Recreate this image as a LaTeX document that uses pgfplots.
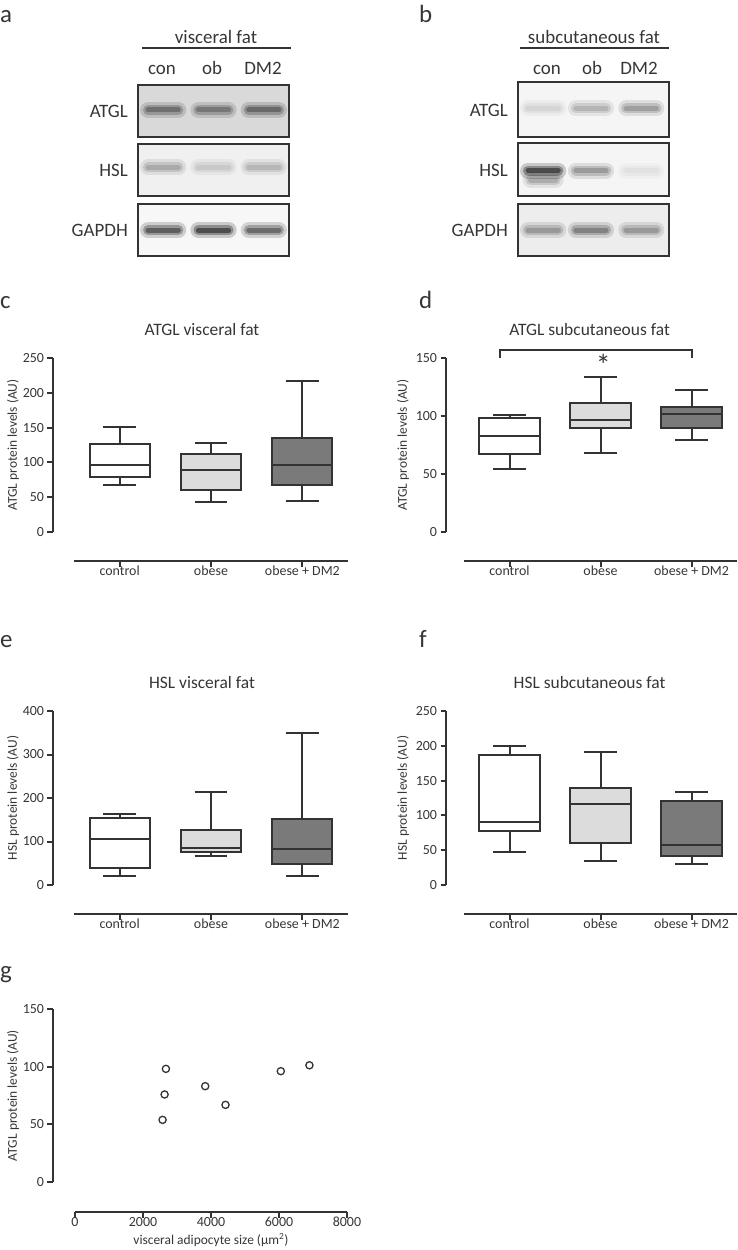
\documentclass[border=0pt]{standalone}
\usepackage{fontspec}
\setmainfont{Carlito}
\usepackage{pgfplots}
\pgfplotsset{compat=1.18}
\definecolor{txt}{HTML}{363636}
\definecolor{ln}{HTML}{333333}
\definecolor{obfill}{HTML}{DCDCDC}
\definecolor{dmfill}{HTML}{7A7A7A}
\newcommand{\band}[4]{%
 \addplot[black!#4, line width=16bp, opacity=0.18, line cap=round] coordinates {(#1,#3) (#2,#3)};
 \addplot[black!#4, line width=10bp, opacity=0.3, line cap=round] coordinates {(#1,#3) (#2,#3)};
 \addplot[black!#4, line width=5bp, opacity=0.45, line cap=round] coordinates {(#1,#3) (#2,#3)};
}
% box: position, lower whisker, Q1, median, Q3, upper whisker, fill
\newcommand{\bxp}[7]{%
 \pgfmathsetmacro\xL{#1-0.33}\pgfmathsetmacro\xR{#1+0.33}%
 \pgfmathsetmacro\cL{#1-0.18}\pgfmathsetmacro\cR{#1+0.18}\def\xC{#1}%
 \addplot[bx] coordinates {(\xC,#3) (\xC,#2)};
 \addplot[bx] coordinates {(\cL,#2) (\cR,#2)};
 \addplot[bx] coordinates {(\xC,#5) (\xC,#6)};
 \addplot[bx] coordinates {(\cL,#6) (\cR,#6)};
 \addplot[bx, fill=#7] coordinates {(\xL,#3) (\xR,#3) (\xR,#5) (\xL,#5)} --cycle;
 \addplot[bx] coordinates {(\xL,#4) (\xR,#4)};
}
\pgfplotsset{
 common/.style={
  scale only axis, enlargelimits=false, anchor=south west,
  axis line style={ln, line width=2bp, -},
  tick style={ln, line width=2bp},
  tick align=outside, major tick length=5.5bp,
  tick label style={font=\fontsize{14}{16}\selectfont, text=txt},
  /pgf/number format/assume math mode=true,
 },
 yax/.style={common, width=10bp, xmin=0, xmax=1, axis y line*=left, hide x axis},
 xax/.style={common, height=10bp, ymin=0, ymax=1, axis x line*=bottom, hide y axis,
  xticklabel style={yshift=4bp}},
 dat/.style={scale only axis, enlargelimits=false, anchor=south west, hide axis, clip=false},
 cat/.style={xmin=-0.5, xmax=2.5, xtick={0,1,2}, xticklabels={control,obese,obese + DM2}},
 bx/.style={draw=ln, line width=2bp, line join=miter},
 blot/.style={scale only axis, width=151bp, xmin=0, xmax=3, ymin=0, ymax=1,
  xtick=\empty, ytick=\empty, axis line style={ln, line width=1.6bp}, anchor=north west},
}
\tikzset{
 ttl/.style={font=\fontsize{17.5}{20}\selectfont, text=txt, anchor=center},
 lab/.style={font=\fontsize{13.5}{16}\selectfont, text=txt, anchor=center},
}
\begin{document}
\begin{tikzpicture}
\path[use as bounding box] (0,0) rectangle (738bp,-1250bp);
\tikzset{lett/.style={anchor=base west, font=\fontsize{25}{30}\selectfont, text=txt, inner sep=0pt}}
\node[lett] at (0bp,-22bp) {a};
\node[lett] at (419bp,-22bp) {b};
\node[lett] at (0bp,-308bp) {c};
\node[lett] at (419bp,-308bp) {d};
\node[lett] at (0bp,-647bp) {e};
\node[lett] at (419bp,-647bp) {f};
\node[lett] at (0bp,-978bp) {g};

% ---------- blots a ----------
\tikzset{bt/.style={font=\fontsize{19}{22}\selectfont, text=txt, inner sep=0pt}}
\node[bt, anchor=base] at (216bp,-43bp) {visceral fat};
\draw[ln, line width=1.5bp] (142bp,-48bp) -- (291bp,-48bp);
\node[bt, anchor=base] at (162bp,-74bp) {con};
\node[bt, anchor=base] at (212bp,-74bp) {ob};
\node[bt, anchor=base] at (263bp,-74bp) {DM2};
\node[bt, anchor=east] at (128bp,-111bp) {ATGL};
\node[bt, anchor=east] at (128bp,-170bp) {HSL};
\node[bt, anchor=east] at (128bp,-230bp) {GAPDH};

\begin{axis}[blot, at={(138bp,-85bp)}, height=52bp, axis background/.style={fill=black!15}]
 \band{0.2}{0.8}{0.52}{75}
 \band{1.2}{1.8}{0.52}{70}
 \band{2.2}{2.8}{0.52}{78}
\end{axis}
\begin{axis}[blot, at={(138bp,-144bp)}, height=52bp, axis background/.style={fill=black!6}]
 \band{0.2}{0.8}{0.55}{45}
 \band{1.2}{1.8}{0.55}{28}
 \band{2.2}{2.8}{0.55}{38}
\end{axis}
\begin{axis}[blot, at={(138bp,-204bp)}, height=52bp, axis background/.style={fill=black!3}]
 \band{0.2}{0.8}{0.5}{90}
 \band{1.2}{1.8}{0.5}{100}
 \band{2.2}{2.8}{0.5}{82}
\end{axis}

% ---------- blots b ----------
\node[bt, anchor=base] at (594bp,-43bp) {subcutaneous fat};
\draw[ln, line width=1.5bp] (520bp,-48bp) -- (669bp,-48bp);
\node[bt, anchor=base] at (547bp,-74bp) {con};
\node[bt, anchor=base] at (592bp,-74bp) {ob};
\node[bt, anchor=base] at (639bp,-74bp) {DM2};
\node[bt, anchor=east] at (508bp,-110bp) {ATGL};
\node[bt, anchor=east] at (508bp,-170bp) {HSL};
\node[bt, anchor=east] at (508bp,-230bp) {GAPDH};

\begin{axis}[blot, at={(518bp,-82bp)}, height=55bp, axis background/.style={fill=black!4}]
 \band{0.2}{0.8}{0.52}{22}
 \band{1.15}{1.75}{0.52}{40}
 \band{2.15}{2.75}{0.52}{52}
\end{axis}
\begin{axis}[blot, at={(518bp,-143bp)}, height=53bp, axis background/.style={fill=black!4}]
 \band{0.25}{0.75}{0.3}{45}
 \band{0.2}{0.8}{0.48}{100}
 \band{1.15}{1.75}{0.48}{55}
 \band{2.15}{2.75}{0.48}{15}
\end{axis}
\begin{axis}[blot, at={(518bp,-204bp)}, height=52bp, axis background/.style={fill=black!7}]
 \band{0.2}{0.8}{0.5}{55}
 \band{1.15}{1.75}{0.5}{68}
 \band{2.15}{2.75}{0.5}{55}
\end{axis}

% ---------- c ----------
\begin{axis}[yax, at={(53bp,-532bp)}, height=174bp, ymin=0, ymax=250, ytick={0,50,100,150,200,250}]
\end{axis}
\begin{axis}[xax, cat, at={(74bp,-561bp)}, width=274bp]
\end{axis}
\begin{axis}[dat, at={(74bp,-532bp)}, width=274bp, height=174bp, xmin=-0.5, xmax=2.5, ymin=0, ymax=250]
 \bxp{0}{68}{78.5}{96}{126}{150.4}{white}
 \bxp{1}{42.6}{60.8}{89.6}{111.6}{127.4}{obfill}
 \bxp{2}{45}{67}{96.7}{135.5}{217.4}{dmfill}
 \node[ttl, yshift=28bp] at (axis description cs:0.467,1) {ATGL visceral fat};
 \node[lab, rotate=90] at (axis description cs:-0.2226,0.5) {ATGL protein levels (AU)};
\end{axis}

% ---------- d ----------
\begin{axis}[yax, at={(446bp,-532bp)}, height=174bp, ymin=0, ymax=150, ytick={0,50,100,150}]
\end{axis}
\begin{axis}[xax, cat, at={(464bp,-561bp)}, width=273bp]
\end{axis}
\begin{axis}[dat, at={(464bp,-532bp)}, width=273bp, height=174bp, xmin=-0.5, xmax=2.5, ymin=0, ymax=150]
 \bxp{0}{53.9}{66.9}{83.1}{98.4}{101.2}{white}
 \bxp{1}{68.1}{90}{96.3}{111.6}{133.3}{obfill}
 \bxp{2}{79}{90}{102.1}{107.6}{122}{dmfill}
 \draw[ln, line width=2bp] (axis cs:-0.1,150) -- (axis cs:-0.1,157) -- (axis cs:2,157) -- (axis cs:2,150);
 \node[font=\fontsize{30}{30}\selectfont, text=txt] at (axis cs:1.03,144) {*};
 \node[ttl, yshift=28bp] at (axis description cs:0.46,1) {ATGL subcutaneous fat};
 \node[lab, rotate=90] at (axis description cs:-0.2234,0.5) {ATGL protein levels (AU)};
\end{axis}

% ---------- e ----------
\begin{axis}[yax, at={(53bp,-885bp)}, height=174bp, ymin=0, ymax=400, ytick={0,100,200,300,400}]
\end{axis}
\begin{axis}[xax, cat, at={(74bp,-914bp)}, width=274bp]
\end{axis}
\begin{axis}[dat, at={(74bp,-885bp)}, width=274bp, height=174bp, xmin=-0.5, xmax=2.5, ymin=0, ymax=400]
 \bxp{0}{21.5}{38.4}{106}{155}{162.7}{white}
 \bxp{1}{67.5}{75}{86}{126.6}{213}{obfill}
 \bxp{2}{20}{49}{82}{152.7}{350}{dmfill}
 \node[ttl, yshift=28bp] at (axis description cs:0.467,1) {HSL visceral fat};
 \node[lab, rotate=90] at (axis description cs:-0.2226,0.5) {HSL protein levels (AU)};
\end{axis}

% ---------- f ----------
\begin{axis}[yax, at={(446bp,-885bp)}, height=174bp, ymin=0, ymax=250, ytick={0,50,100,150,200,250}]
\end{axis}
\begin{axis}[xax, cat, at={(464bp,-914bp)}, width=273bp]
\end{axis}
\begin{axis}[dat, at={(464bp,-885bp)}, width=273bp, height=174bp, xmin=-0.5, xmax=2.5, ymin=0, ymax=250]
 \bxp{0}{47}{77}{90.4}{187.5}{199.5}{white}
 \bxp{1}{35}{61}{116.3}{140}{191.3}{obfill}
 \bxp{2}{30.8}{41.3}{57}{121}{134}{dmfill}
 \node[ttl, yshift=28bp] at (axis description cs:0.46,1) {HSL subcutaneous fat};
 \node[lab, rotate=90] at (axis description cs:-0.2234,0.5) {HSL protein levels (AU)};
\end{axis}

% ---------- g ----------
\begin{axis}[yax, at={(53bp,-1182bp)}, height=173bp, ymin=0, ymax=150, ytick={0,50,100,150}]
\end{axis}
\begin{axis}[xax, at={(75bp,-1212bp)}, width=272bp, xmin=0, xmax=8000,
  xtick={0,2000,4000,6000,8000}, scaled x ticks=false, /pgf/number format/1000 sep={}]
\end{axis}
\begin{axis}[dat, at={(75bp,-1182bp)}, width=272bp, height=173bp, xmin=0, xmax=8000, ymin=0, ymax=150]
 \addplot[only marks, mark=o, mark size=3.6bp, mark options={draw=ln, line width=1.3bp, fill=white}] coordinates {
  (2674,98.1) (2635,75.9) (2576,53.9) (3830,83.1) (4427,66.9) (6053,96.1) (6895,101.2)};
 \node[lab, rotate=90] at (axis description cs:-0.228,0.5) {ATGL protein levels (AU)};
 \node[lab, yshift=-58bp] at (axis description cs:0.5,0) {visceral adipocyte size (µm\textsuperscript{2})};
\end{axis}
\end{tikzpicture}
\end{document}
